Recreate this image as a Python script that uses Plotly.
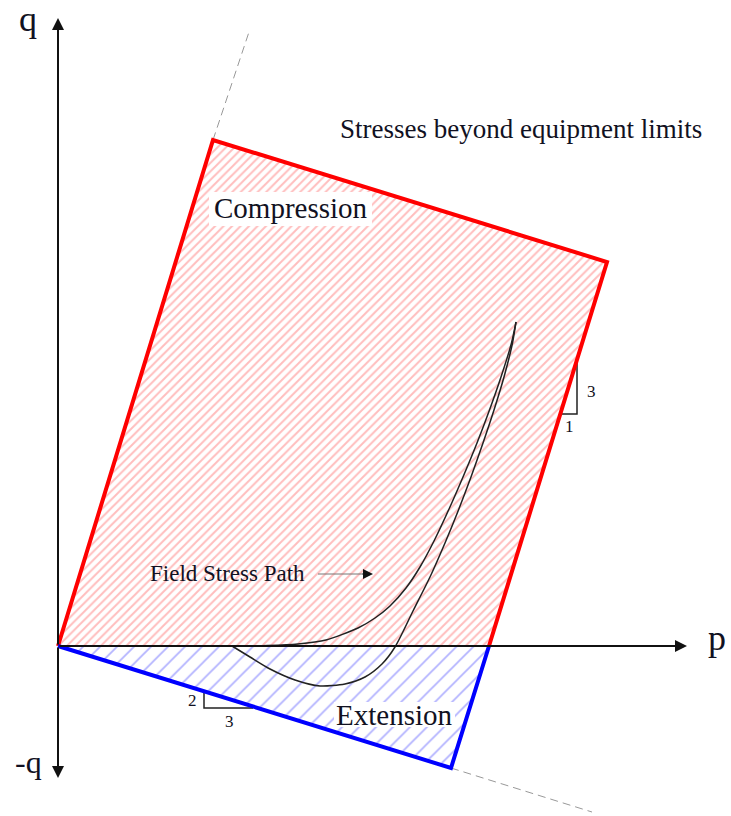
import plotly.graph_objects as go

# ---- data (units: p, q) ----
compression_p = [0.00, 1.55, 5.49, 4.31]
compression_q = [0.00, 5.06, 3.84, 0.00]
extension_p = [0.00, 3.93, 4.31]
extension_q = [0.00, -1.22, 0.00]

dash_up_p = [1.55, 1.91]
dash_up_q = [5.06, 6.14]
dash_dn_p = [3.93, 5.34]
dash_dn_q = [-1.22, -1.66]

path_upper_p = [1.74, 2.10, 2.40, 2.68, 3.00, 3.17, 3.32, 3.48, 3.62, 3.765, 3.915, 4.05, 4.19, 4.315, 4.43, 4.535, 4.58]
path_upper_q = [0.00, 0.005, 0.02, 0.06, 0.18, 0.28, 0.40, 0.58, 0.79, 1.06, 1.38, 1.69, 2.03, 2.36, 2.69, 3.03, 3.24]
path_lower_p = [1.74, 1.92, 2.12, 2.37, 2.62, 2.87, 3.07, 3.24, 3.37, 3.555, 3.72, 3.87, 4.005, 4.13, 4.25, 4.36, 4.46, 4.545, 4.58]
path_lower_q = [0.00, -0.11, -0.23, -0.34, -0.40, -0.38, -0.31, -0.18, -0.01, 0.36, 0.69, 1.03, 1.36, 1.69, 2.03, 2.36, 2.69, 3.03, 3.24]

slope_c_p = [5.19, 5.19, 5.02]
slope_c_q = [2.84, 2.32, 2.32]
slope_e_p = [1.46, 1.46, 1.95]
slope_e_q = [-0.46, -0.62, -0.62]

# white backgrounds behind the region names
compression_box_p = [1.51, 3.14, 3.14, 1.51]
compression_box_q = [4.20, 4.20, 4.54, 4.54]
extension_box_p = [2.76, 3.97, 3.97, 2.76]
extension_box_q = [-0.81, -0.81, -0.56, -0.56]

axis_q_top = (0.0, 6.28)
axis_q_bottom = (0.0, -1.32)
axis_p_end = (6.29, 0.0)
field_arrow_tail = (2.60, 0.72)
field_arrow_tip = (3.15, 0.72)

labels = [
    ("q", -0.30, 6.27, 36),
    ("p", 6.59, 0.08, 36),
    ("-q", -0.30, -1.16, 32),
    ("Stresses beyond equipment limits", 4.63, 5.17, 27),
    ("Field Stress Path", 1.69, 0.73, 23),
    ("3", 5.33, 2.55, 17),
    ("1", 5.11, 2.20, 17),
    ("2", 1.34, -0.54, 17),
    ("3", 1.71, -0.75, 17),
    ("Compression", 2.33, 4.38, 29),
    ("Extension", 3.36, -0.69, 29),
]

FONT = "Liberation Serif, Times New Roman, serif"

fig = go.Figure()

# hatched regions
fig.add_trace(go.Scatter(
    x=compression_p, y=compression_q, fill="toself", mode="none",
    fillcolor="rgba(0,0,0,0)",
    fillpattern=dict(shape="/", fgcolor="rgba(255,80,80,0.75)", size=6, solidity=0.33),
    hoverinfo="skip", showlegend=False))
fig.add_trace(go.Scatter(
    x=extension_p, y=extension_q, fill="toself", mode="none",
    fillcolor="rgba(0,0,0,0)",
    fillpattern=dict(shape="/", fgcolor="rgba(70,70,255,0.85)", size=12, solidity=0.14),
    hoverinfo="skip", showlegend=False))

# white boxes behind region names
for xs, ys in [(compression_box_p, compression_box_q), (extension_box_p, extension_box_q)]:
    fig.add_trace(go.Scatter(x=xs, y=ys, fill="toself", mode="none", fillcolor="white",
                             hoverinfo="skip", showlegend=False))

# dashed extension lines
for xs, ys in [(dash_up_p, dash_up_q), (dash_dn_p, dash_dn_q)]:
    fig.add_trace(go.Scatter(x=xs, y=ys, mode="lines",
                             line=dict(color="#999999", width=1, dash="8px,5px"),
                             hoverinfo="skip", showlegend=False))

# stress path
for xs, ys in [(path_upper_p, path_upper_q), (path_lower_p, path_lower_q)]:
    fig.add_trace(go.Scatter(x=xs, y=ys, mode="lines",
                             line=dict(color="#222222", width=1.5, shape="spline", smoothing=0.7),
                             hoverinfo="skip", showlegend=False))

# slope indicators
for xs, ys in [(slope_c_p, slope_c_q), (slope_e_p, slope_e_q)]:
    fig.add_trace(go.Scatter(x=xs, y=ys, mode="lines",
                             line=dict(color="#222222", width=1.5),
                             hoverinfo="skip", showlegend=False))

# borders (red open polyline, blue open polyline)
fig.add_trace(go.Scatter(x=compression_p, y=compression_q, mode="lines",
                         line=dict(color="#ff0000", width=4), hoverinfo="skip", showlegend=False))
fig.add_trace(go.Scatter(x=extension_p, y=extension_q, mode="lines",
                         line=dict(color="#0000ff", width=4), hoverinfo="skip", showlegend=False))

# field arrow shaft (grey)
fig.add_trace(go.Scatter(x=[field_arrow_tail[0], field_arrow_tip[0] - 0.05],
                         y=[field_arrow_tail[1], field_arrow_tip[1]], mode="lines",
                         line=dict(color="#777777", width=1), hoverinfo="skip", showlegend=False))

# axes arrows
for tip in [axis_q_top, axis_q_bottom, axis_p_end]:
    fig.add_annotation(x=tip[0], y=tip[1], ax=0, ay=0, xref="x", yref="y", axref="x", ayref="y",
                       text="", showarrow=True, arrowhead=2, arrowsize=1.2, arrowwidth=2,
                       arrowcolor="#111111")
fig.add_annotation(x=field_arrow_tip[0], y=field_arrow_tip[1],
                   ax=field_arrow_tip[0] - 0.12, ay=field_arrow_tip[1],
                   xref="x", yref="y", axref="x", ayref="y",
                   text="", showarrow=True, arrowhead=2, arrowsize=2, arrowwidth=1,
                   arrowcolor="#111111")

for t, x, y, s in labels:
    fig.add_annotation(x=x, y=y, xref="x", yref="y", text=t, showarrow=False,
                       font=dict(family=FONT, size=s, color="#111122"))

fig.update_layout(
    width=731, height=816, autosize=False,
    margin=dict(l=0, r=0, t=0, b=0),
    paper_bgcolor="white", plot_bgcolor="white",
    xaxis=dict(range=[-0.58, 6.73], visible=False, fixedrange=True),
    yaxis=dict(range=[-1.70, 6.46], visible=False, fixedrange=True),
)

fig.write_html("out.html")
